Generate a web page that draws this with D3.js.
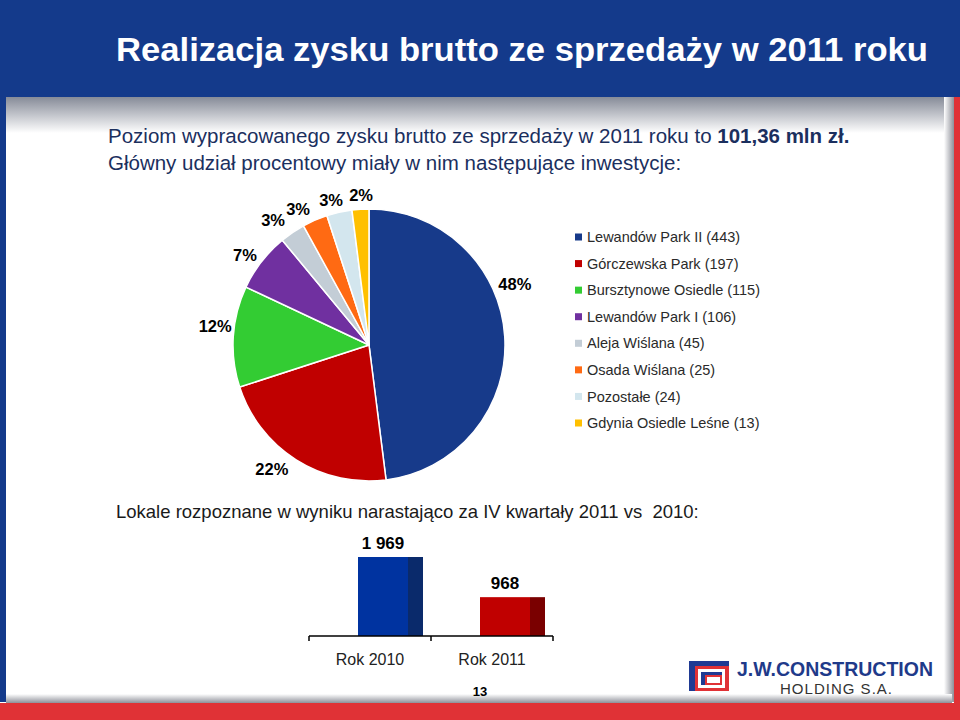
<!DOCTYPE html>
<html><head><meta charset="utf-8">
<script src="https://cdn.jsdelivr.net/npm/d3@7"></script>
<style>html,body{margin:0;padding:0;background:#fff;}svg{display:block;font-family:"Liberation Sans",Arial,sans-serif;}</style>
</head><body>
<script>
// ---- data ----
const pieLabels = ["Lewandów Park II (443)","Górczewska Park (197)","Bursztynowe Osiedle (115)","Lewandów Park I (106)","Aleja Wiślana (45)","Osada Wiślana (25)","Pozostałe (24)","Gdynia Osiedle Leśne (13)"];
const pieShares = [48,22,12,7,3,3,3,2];
const pieColors = ["#173A8A","#C00000","#33CC33","#7030A0","#C3CDD6","#FF6A13","#D3E6EE","#FFC000"];
const barCategories = ["Rok 2010","Rok 2011"];
const barValues = [1969,968];
const barValueLabels = ["1 969","968"];
const barColors = ["#0033A0","#C00000"];
const barSideColors = ["#0A2A6B","#7A0000"];

const W=960,H=720;
const svg=d3.select("body").append("svg").attr("width",W).attr("height",H);
const defs=svg.append("defs");
const g1=defs.append("linearGradient").attr("id","topShade").attr("x1",0).attr("y1",0).attr("x2",0).attr("y2",1);
g1.append("stop").attr("offset","0%").attr("stop-color","#868B98");
g1.append("stop").attr("offset","100%").attr("stop-color","#ffffff");
const g2=defs.append("linearGradient").attr("id","rightShade").attr("x1",0).attr("y1",0).attr("x2",1).attr("y2",0);
g2.append("stop").attr("offset","0%").attr("stop-color","#ffffff");
g2.append("stop").attr("offset","100%").attr("stop-color","#8E9099");
const g3=defs.append("linearGradient").attr("id","botShade").attr("x1",0).attr("y1",0).attr("x2",0).attr("y2",1);
g3.append("stop").attr("offset","0%").attr("stop-color","#ffffff");
g3.append("stop").attr("offset","100%").attr("stop-color","#8E9099");

// frame
svg.append("rect").attr("x",0).attr("y",0).attr("width",W).attr("height",H).attr("fill","#fff");
svg.append("rect").attr("x",0).attr("y",0).attr("width",W).attr("height",97).attr("fill","#143A8B");
svg.append("rect").attr("x",0).attr("y",0).attr("width",6).attr("height",702).attr("fill","#143A8B");
svg.append("rect").attr("x",6).attr("y",97).attr("width",946).attr("height",36).attr("fill","url(#topShade)");
svg.append("rect").attr("x",944).attr("y",97).attr("width",10).attr("height",605).attr("fill","url(#rightShade)");
svg.append("rect").attr("x",6).attr("y",694).attr("width",946).attr("height",9).attr("fill","url(#botShade)");
svg.append("rect").attr("x",954).attr("y",97).attr("width",6).attr("height",623).attr("fill","#E03236");
svg.append("rect").attr("x",0).attr("y",703).attr("width",W).attr("height",17).attr("fill","#E03236");

// title
svg.append("text").attr("x",116).attr("y",61).attr("fill","#fff").attr("font-size",33).attr("font-weight","bold")
  .attr("textLength",812).attr("lengthAdjust","spacingAndGlyphs")
  .text("Realizacja zysku brutto ze sprzedaży w 2011 roku");

// subtitle
const st=svg.append("text").attr("x",108).attr("y",143).attr("fill","#1B2F5E").attr("font-size",20.5);
st.append("tspan").text("Poziom wypracowanego zysku brutto ze sprzedaży w 2011 roku to ");
st.append("tspan").attr("font-weight","bold").text("101,36 mln zł.");
svg.append("text").attr("x",108).attr("y",170).attr("fill","#1B2F5E").attr("font-size",20.5)
  .text("Główny udział procentowy miały w nim następujące inwestycje:");

// pie
const cx=369,cy=345,R=136;
const pie=d3.pie().sort(null).value(d=>d)(pieShares);
const arc=d3.arc().innerRadius(0).outerRadius(R);
const pg=svg.append("g").attr("transform",`translate(${cx},${cy})`);
pg.selectAll("path").data(pie).join("path").attr("d",arc).attr("fill",(d,i)=>pieColors[i])
  .attr("stroke","#fff").attr("stroke-width",1.5).attr("stroke-linejoin","round");
const labelR=[158,158,155,153,157,153,150,150];
const labelFrac=[0.39,0.57,0.58,0.42,0.18,0.11,0.31,0.58];
pg.selectAll("text.pl").data(pie).join("text").attr("class","pl")
  .attr("x",(d,i)=>{const a=d.startAngle+(d.endAngle-d.startAngle)*labelFrac[i];return Math.sin(a)*labelR[i];})
  .attr("y",(d,i)=>{const a=d.startAngle+(d.endAngle-d.startAngle)*labelFrac[i];return -Math.cos(a)*labelR[i];})
  .attr("dy","0.35em").attr("text-anchor","middle").attr("font-size",16.5).attr("font-weight","bold").attr("fill","#000")
  .text(d=>d.data+"%");

// legend
const lg=svg.append("g").attr("transform","translate(575,237)");
const ly=d3.scalePoint().domain(d3.range(pieLabels.length)).range([0,186]);
pieLabels.forEach((t,i)=>{
  lg.append("rect").attr("x",0).attr("y",ly(i)-3.5).attr("width",7).attr("height",7).attr("fill",pieColors[i]);
  lg.append("text").attr("x",12).attr("y",ly(i)).attr("dy","0.35em").attr("font-size",14.5).attr("fill","#2a2a2a").text(t);
});

// second caption
svg.append("text").attr("x",116).attr("y",518).attr("fill","#1a1a1a").attr("font-size",18.5)
  .style("white-space","pre")
  .text("Lokale rozpoznane w wyniku narastająco za IV kwartały 2011 vs  2010:");

// bars
const x=d3.scaleBand().domain(barCategories).range([309,553]);
const y=d3.scaleLinear().domain([0,1969]).range([636,557]);
const bg=svg.append("g");
const frontOff=49, frontW=50, sideW=15;
barCategories.forEach((c,i)=>{
  const x0=x(c)+frontOff;
  bg.append("rect").attr("x",x0).attr("y",y(barValues[i])).attr("width",frontW).attr("height",y(0)-y(barValues[i])).attr("fill",barColors[i]);
  bg.append("rect").attr("x",x0+frontW).attr("y",y(barValues[i])).attr("width",sideW).attr("height",y(0)-y(barValues[i])).attr("fill",barSideColors[i]);
  bg.append("text").attr("x",x0+frontW/2).attr("y",y(barValues[i])-8).attr("text-anchor","middle")
    .attr("font-size",17).attr("font-weight","bold").attr("fill","#000").text(barValueLabels[i]);
});
const ax=svg.append("g").attr("transform","translate(0,636)")
  .call(d3.axisBottom(x).tickSize(0).tickPadding(18));
ax.select(".domain").attr("stroke","#000").attr("stroke-width",1.5).attr("d","M309,0H553");
ax.selectAll(".tick text").attr("font-size",16).attr("fill","#222").attr("font-family","Liberation Sans, Arial, sans-serif");
const edges=[x.range()[0]].concat(barCategories.map(c=>x(c)+x.bandwidth()));
ax.selectAll("line.edge").data(edges).join("line").attr("class","edge").attr("x1",d=>d).attr("x2",d=>d)
  .attr("y1",0).attr("y2",5).attr("stroke","#000").attr("stroke-width",1.5);

// page number
svg.append("text").attr("x",480).attr("y",696).attr("text-anchor","middle").attr("font-size",13).attr("font-weight","bold").attr("fill","#000").text("13");

// logo
const lgo=svg.append("g").attr("transform","translate(689,661)");
lgo.append("rect").attr("x",0).attr("y",0).attr("width",40).attr("height",30).attr("fill","#1F3A93");
lgo.append("rect").attr("x",6).attr("y",5).attr("width",34).attr("height",25).attr("fill","#E03236");
lgo.append("rect").attr("x",9).attr("y",8).attr("width",27).attr("height",19).attr("fill","#fff");
lgo.append("rect").attr("x",12).attr("y",11).attr("width",21).attr("height",13).attr("fill","#1F3A93");
lgo.append("rect").attr("x",16).attr("y",14).attr("width",17).attr("height",10).attr("fill","#E03236");
lgo.append("rect").attr("x",18).attr("y",16).attr("width",13).attr("height",6).attr("fill","#fff");
svg.append("text").attr("x",737).attr("y",676).attr("font-size",21).attr("font-weight","bold").attr("fill","#1F3A8A")
  .attr("textLength",196).attr("lengthAdjust","spacingAndGlyphs").text("J.W.CONSTRUCTION");
svg.append("text").attr("x",780).attr("y",694).attr("font-size",15).attr("fill","#333")
  .attr("textLength",112).attr("lengthAdjust","spacing").text("HOLDING S.A.");
</script>
</body></html>
